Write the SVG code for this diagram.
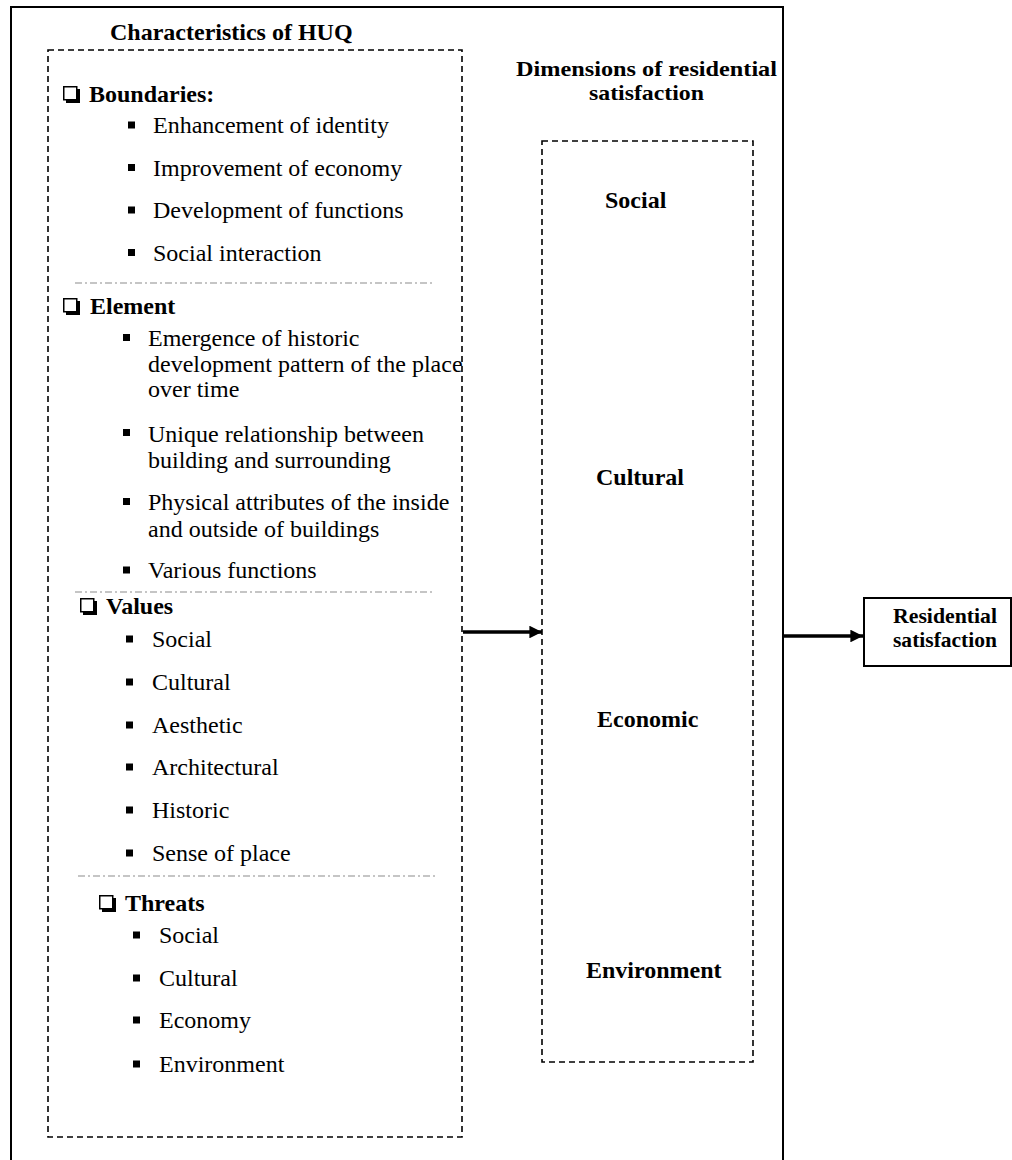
<svg xmlns="http://www.w3.org/2000/svg" xmlns:xlink="http://www.w3.org/1999/xlink" width="1012" height="1160" viewBox="0 0 1012 1160">
  <style>
    text { font-family: "Liberation Serif", "Times New Roman", serif; fill: #000; }
    .item { font-size: 24px; }
    .head { font-size: 24px; font-weight: bold; }
    .dim { font-size: 24px; font-weight: bold; }
    .title2 { font-size: 21px; font-weight: bold; }
    .out { font-size: 21px; font-weight: bold; }
    .frame { fill: none; stroke: #000; stroke-width: 2; }
    .dashed { fill: none; stroke: #000; stroke-width: 1.6; stroke-dasharray: 6 4; }
    .sep { fill: none; stroke: #b3b3b3; stroke-width: 1.5; stroke-dasharray: 7 3 2 3; }
    .arrow { fill: none; stroke: #000; stroke-width: 3.5; }
    .box { fill: #fff; stroke: #000; stroke-width: 2; }
  </style>
  <defs>
    <!-- small filled bullet square -->
    <symbol id="bullet" overflow="visible">
      <rect x="0" y="0" width="7" height="7" fill="#000"/>
    </symbol>
    <!-- shadowed check box marker -->
    <symbol id="checkbox" overflow="visible">
      <rect x="0.75" y="0.75" width="13" height="13" fill="#fff" stroke="#000" stroke-width="1.5"/>
      <path d="M15.5 3 V15.5 H3" fill="none" stroke="#000" stroke-width="3"/>
    </symbol>
    <marker id="head" viewBox="0 0 10 10" refX="10" refY="5" markerWidth="3.6" markerHeight="3.6" markerUnits="strokeWidth" orient="auto">
      <path d="M0 0 L10 5 L0 10 Z" fill="#000"/>
    </marker>
  </defs>

  <!-- outer frame -->
  <rect class="frame" x="11" y="7" width="772" height="1170"/>

  <!-- characteristics panel -->
  <g id="characteristics">
    <text class="head" x="110" y="40">Characteristics of HUQ</text>
    <rect class="dashed" x="48" y="50" width="414" height="1087"/>

    <use xlink:href="#checkbox" x="63" y="86"/>
    <text class="head" x="89" y="102">Boundaries:</text>
    <use xlink:href="#bullet" x="128" y="121.5"/>
    <text class="item" x="153" y="133">Enhancement of identity</text>
    <use xlink:href="#bullet" x="128" y="164"/>
    <text class="item" x="153" y="175.5">Improvement of economy</text>
    <use xlink:href="#bullet" x="128" y="206.5"/>
    <text class="item" x="153" y="218">Development of functions</text>
    <use xlink:href="#bullet" x="128" y="249"/>
    <text class="item" x="153" y="260.5">Social interaction</text>

    <line class="sep" x1="75" y1="283" x2="435" y2="283"/>

    <use xlink:href="#checkbox" x="63" y="298"/>
    <text class="head" x="90" y="314">Element</text>
    <use xlink:href="#bullet" x="123" y="334"/>
    <text class="item" x="148" y="346">Emergence of historic</text>
    <text class="item" x="148" y="372">development pattern of the place</text>
    <text class="item" x="148" y="397">over time</text>
    <use xlink:href="#bullet" x="123" y="429"/>
    <text class="item" x="148" y="442">Unique relationship between</text>
    <text class="item" x="148" y="468">building and surrounding</text>
    <use xlink:href="#bullet" x="123" y="498"/>
    <text class="item" x="148" y="510">Physical attributes of the inside</text>
    <text class="item" x="148" y="537">and outside of buildings</text>
    <use xlink:href="#bullet" x="123" y="566.5"/>
    <text class="item" x="148" y="578">Various functions</text>

    <line class="sep" x1="75" y1="592" x2="435" y2="592"/>

    <use xlink:href="#checkbox" x="80" y="598"/>
    <text class="head" x="106" y="614">Values</text>
    <use xlink:href="#bullet" x="126" y="635.5"/>
    <text class="item" x="152" y="647">Social</text>
    <use xlink:href="#bullet" x="126" y="678.5"/>
    <text class="item" x="152" y="690">Cultural</text>
    <use xlink:href="#bullet" x="126" y="721.5"/>
    <text class="item" x="152" y="733">Aesthetic</text>
    <use xlink:href="#bullet" x="126" y="763.5"/>
    <text class="item" x="152" y="775">Architectural</text>
    <use xlink:href="#bullet" x="126" y="806.5"/>
    <text class="item" x="152" y="818">Historic</text>
    <use xlink:href="#bullet" x="126" y="849.5"/>
    <text class="item" x="152" y="861">Sense of place</text>

    <line class="sep" x1="78" y1="876" x2="438" y2="876"/>

    <use xlink:href="#checkbox" x="99" y="895"/>
    <text class="head" x="125" y="911">Threats</text>
    <use xlink:href="#bullet" x="133" y="931.5"/>
    <text class="item" x="159" y="943">Social</text>
    <use xlink:href="#bullet" x="133" y="974.5"/>
    <text class="item" x="159" y="986">Cultural</text>
    <use xlink:href="#bullet" x="133" y="1016.5"/>
    <text class="item" x="159" y="1028">Economy</text>
    <use xlink:href="#bullet" x="133" y="1060.5"/>
    <text class="item" x="159" y="1072">Environment</text>
  </g>

  <!-- dimensions panel -->
  <g id="dimensions">
    <text class="title2" x="516" y="76" textLength="261" lengthAdjust="spacingAndGlyphs">Dimensions of residential</text>
    <text class="title2" x="589" y="100" textLength="115" lengthAdjust="spacingAndGlyphs">satisfaction</text>
    <rect class="dashed" x="542" y="141" width="211" height="921"/>
    <text class="dim" x="605" y="208">Social</text>
    <text class="dim" x="596" y="485">Cultural</text>
    <text class="dim" x="597" y="727">Economic</text>
    <text class="dim" x="586" y="978">Environment</text>
  </g>

  <!-- outcome -->
  <g id="residential-satisfaction">
    <rect class="box" x="864" y="598" width="147" height="68"/>
    <text class="out" x="893" y="623" textLength="104" lengthAdjust="spacingAndGlyphs">Residential</text>
    <text class="out" x="893" y="647" textLength="104" lengthAdjust="spacingAndGlyphs">satisfaction</text>
  </g>

  <!-- connectors -->
  <g id="connectors">
    <line class="arrow" x1="463" y1="632" x2="542" y2="632" marker-end="url(#head)"/>
    <line class="arrow" x1="784" y1="636" x2="863" y2="636" marker-end="url(#head)"/>
  </g>
</svg>
